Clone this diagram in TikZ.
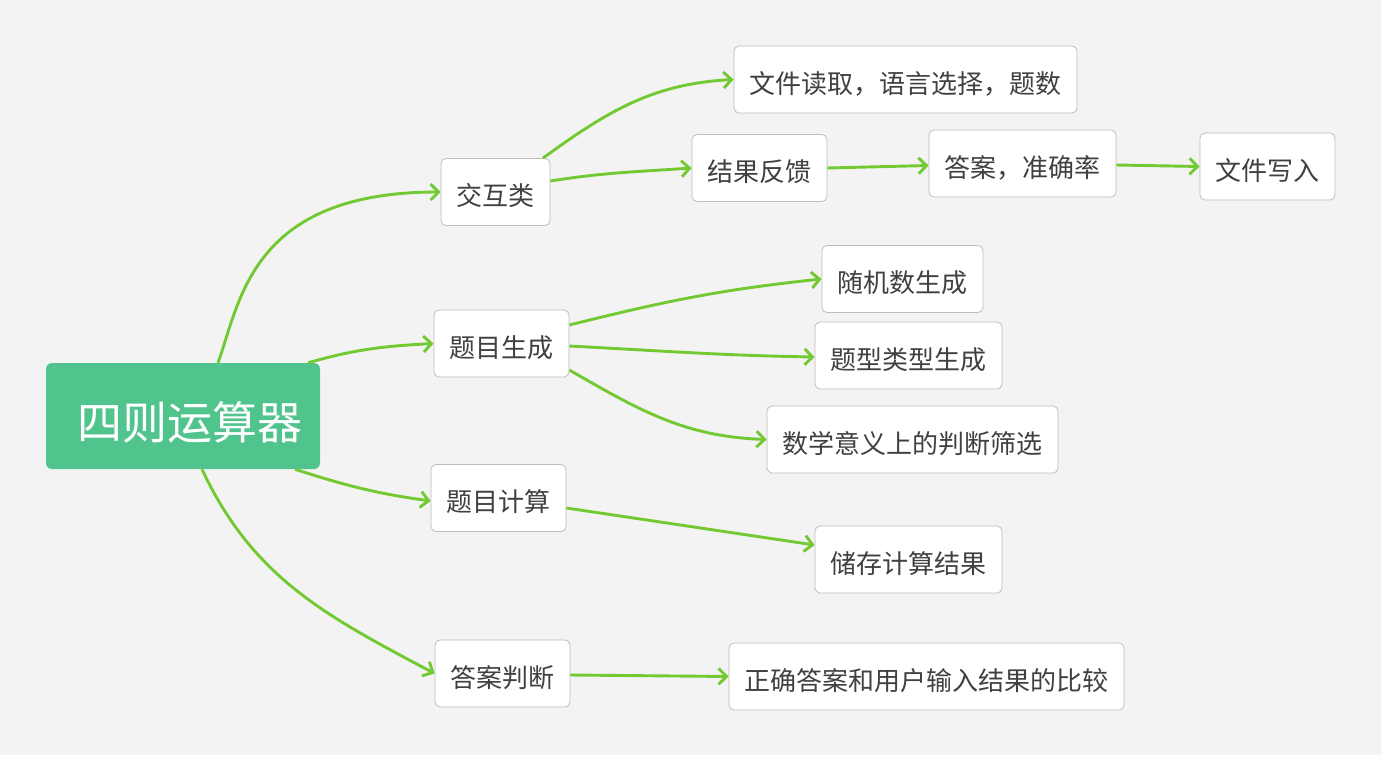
\documentclass[tikz,border=0pt]{standalone}
\usepackage{fontspec}
\usetikzlibrary{arrows.meta}
\newfontfamily\cjk{Noto Sans CJK SC}
\definecolor{fond}{HTML}{F3F3F3}
\definecolor{vert}{HTML}{50C48C}
\definecolor{lien}{HTML}{72C931}
\definecolor{bord}{HTML}{BDBDBD}
\definecolor{texte}{HTML}{404040}
\begin{document}
\begin{tikzpicture}[x=1pt, y=1pt,
    racine/.style={fill=vert, rounded corners=6pt, minimum width=274pt, minimum height=106pt,
        inner xsep=5pt, text height=47pt, text depth=0pt, text=white,
        font=\cjk\fontsize{45}{50}\selectfont},
    boite/.style={draw=bord, fill=white, rounded corners=5pt, line width=0.8pt,
        minimum height=67pt, inner xsep=15.5pt, text height=27pt, text depth=0pt,
        text=texte, font=\cjk\fontsize{26}{30}\selectfont},
    fleche/.style={draw=lien, line width=2.9pt, -{Straight Barb[length=8pt,width=16pt]}}]
    % Fond gris clair
    \useasboundingbox (0,0) rectangle (1390,-761);
    \fill[white] (0,0) rectangle (1390,-761);
    \fill[fond] (0,0) rectangle (1381,-755);

    % Noeud central
    \node[racine] (calc) at (183,-416) {\hspace{14pt}四则运算器};

    % Branches principales
    \node[boite] (inter) at (495.5,-192) {交互类};
    \node[boite] (gen) at (501.5,-343.5) {题目生成};
    \node[boite] (calcul) at (498.5,-498) {题目计算};
    \node[boite] (juge) at (502.5,-673.5) {答案判断};

    % Sous-branches
    \node[boite] (lecture) at (905.5,-79.5) {文件读取，语言选择，题数};
    \node[boite] (retour) at (759.5,-168) {结果反馈};
    \node[boite] (taux) at (1022.5,-163.5) {答案，准确率};
    \node[boite] (ecriture) at (1267.5,-166.5) {文件写入};
    \node[boite] (alea) at (902.5,-279) {随机数生成};
    \node[boite] (types) at (908.5,-355.5) {题型类型生成};
    \node[boite] (filtre) at (912.5,-439.5) {数学意义上的判断筛选};
    \node[boite] (stock) at (908.5,-559.5) {储存计算结果};
    \node[boite] (compar) at (926.5,-676.5) {正确答案和用户输入结果的比较};

    % Liens depuis le noeud central
    \draw[fleche] ([xshift=35pt]calc.north) to[out=70,in=180,out distance=65pt,in distance=190pt] (inter.west);
    \draw[fleche] ([xshift=125pt]calc.north) to[out=16,in=183] (gen.west);
    \draw[fleche] ([xshift=112pt]calc.south) to[out=-18,in=172] ([yshift=-3pt]calcul.west);
    \draw[fleche] ([xshift=19pt]calc.south) to[out=-65,in=152] (juge.west);

    % Liens secondaires
    \draw[fleche] ([xshift=47.5pt]inter.north) to[out=36,in=183] (lecture.west);
    \draw[fleche] ([yshift=11pt]inter.east) to[out=9,in=184] (retour.west);
    \draw[fleche] (retour.east) -- ([yshift=-2pt]taux.west);
    \draw[fleche] ([yshift=-1.5pt]taux.east) -- (ecriture.west);
    \draw[fleche] ([yshift=18.5pt]gen.east) to[out=14,in=186] (alea.west);
    \draw[fleche] ([yshift=-2.5pt]gen.east) to[out=-3,in=179] ([yshift=-1.5pt]types.west);
    \draw[fleche] ([yshift=-26.5pt]gen.east) to[out=-30,in=178] (filtre.west);
    \draw[fleche] ([yshift=-10pt]calcul.east) -- ([yshift=14.5pt]stock.west);
    \draw[fleche] ([yshift=-1.5pt]juge.east) -- (compar.west);
\end{tikzpicture}
\end{document}
